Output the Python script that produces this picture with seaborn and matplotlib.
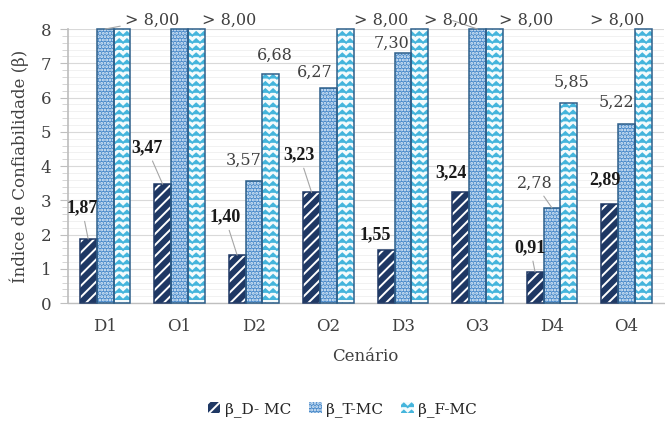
import warnings
import numpy as np
import pandas as pd
import matplotlib
matplotlib.use('Agg')
import matplotlib.pyplot as plt
import seaborn as sns
from matplotlib import hatch as mhatch
from matplotlib.path import Path
from matplotlib.patches import Rectangle
from matplotlib.ticker import MultipleLocator

warnings.filterwarnings('ignore')

# Dados (8,00 = "> 8,00")
cenarios = ['D1', 'O1', 'D2', 'O2', 'D3', 'O3', 'D4', 'O4']
beta_d = [1.87, 3.47, 1.40, 3.23, 1.55, 3.24, 0.91, 2.89]
beta_t = [8.00, 8.00, 3.57, 6.27, 7.30, 8.00, 2.78, 5.22]
beta_f = [8.00, 8.00, 6.68, 8.00, 8.00, 8.00, 5.85, 8.00]
series = ['β_D- MC', 'β_T-MC', 'β_F-MC']

# rotulos: (serie, cenario, x do texto, y do texto, linha guia)
rotulos = [
    (0, 0, -0.31, 2.77, True),
    (0, 1, 0.56, 4.53, True),
    (0, 2, 1.61, 2.51, True),
    (0, 3, 2.61, 4.32, True),
    (0, 4, 3.63, 1.99, False),
    (0, 5, 4.64, 3.82, False),
    (0, 6, 5.71, 1.61, True),
    (0, 7, 6.71, 3.59, False),
    (1, 0, 0.63, 8.26, True),
    (1, 2, 1.86, 4.18, False),
    (1, 3, 2.82, 6.74, False),
    (1, 4, 3.84, 7.59, False),
    (1, 5, 4.65, 8.26, True),
    (1, 6, 5.77, 3.50, True),
    (1, 7, 6.87, 5.87, False),
    (2, 1, 1.66, 8.26, False),
    (2, 2, 2.28, 7.24, False),
    (2, 4, 3.70, 8.26, False),
    (2, 5, 5.65, 8.26, False),
    (2, 6, 6.27, 6.45, False),
    (2, 7, 6.88, 8.26, False),
]


# padrao zig-zag (nao existe no matplotlib)
class ZigZag(mhatch.HatchPatternBase):
    periods = 13

    def __init__(self, hatch, density):
        self.num_lines = int(hatch.count('z') * density * 1.2)
        self.num_vertices = self.num_lines * (2 * self.periods + 1)

    def set_vertices_and_codes(self, vertices, codes):
        n = 2 * self.periods + 1
        xs = np.linspace(0, 1, n)
        amp = 0.5 / max(self.num_lines, 1)
        off = np.where(np.arange(n) % 2 == 0, 0.0, amp)
        steps = np.linspace(0, 1, self.num_lines, endpoint=False)
        for i, y0 in enumerate(steps):
            vertices[i * n:(i + 1) * n, 0] = xs
            vertices[i * n:(i + 1) * n, 1] = y0 + off
            codes[i * n] = Path.MOVETO
            codes[i * n + 1:(i + 1) * n] = Path.LINETO


mhatch._hatch_types.append(ZigZag)

sns.set_theme(style='white')
plt.rcParams['font.family'] = ['DejaVu Serif']
plt.rcParams['hatch.linewidth'] = 1.4

df = pd.DataFrame({
    'Cenário': cenarios * 3,
    'beta': beta_d + beta_t + beta_f,
    'serie': [s for s in series for _ in cenarios],
})

cores = ['#1f3864', '#4a8aca', '#f4fbfd']
cor_hatch = ['white', '#e8f2fb', '#45b5dc']
bordas = ['#1f3864', '#2e5f8a', '#2e5f8a']
hatches = ['///', '.....', 'zz']

fig = plt.figure(figsize=(6.65, 4.21), dpi=100)
ax = fig.add_axes([0.102, 0.280, 0.896, 0.651])

sns.barplot(data=df, x='Cenário', y='beta', hue='serie', palette=cores,
            saturation=1, width=0.68, gap=0, legend=False, ax=ax, zorder=2)

for k, cont in enumerate(ax.containers):
    for p in cont.patches:
        p.set_hatch(hatches[k])
        p.set_edgecolor(cor_hatch[k])
        p.set_linewidth(0)
        ax.add_patch(Rectangle(p.get_xy(), p.get_width(), p.get_height(),
                               fill=False, edgecolor=bordas[k], lw=1.1,
                               zorder=3, clip_on=False))

ax.set_xlim(-0.5, 7.5)
ax.set_ylim(0, 8)
ax.yaxis.set_major_locator(MultipleLocator(1))
ax.yaxis.set_minor_locator(MultipleLocator(0.2))
ax.grid(which='major', axis='y', color='#d9d9d9', lw=0.8)
ax.grid(which='minor', axis='y', color='#efefef', lw=0.6)
ax.set_axisbelow(True)

ax.tick_params(axis='y', which='major', left=True, length=6, width=0.8,
               color='#bfbfbf', labelsize=12, labelcolor='#404040', pad=6)
ax.tick_params(axis='y', which='minor', left=True, length=4, width=0.6,
               color='#cfcfcf')
ax.tick_params(axis='x', length=0, labelsize=12, labelcolor='#404040', pad=11)
for s in ['top', 'right']:
    ax.spines[s].set_visible(False)
ax.spines['left'].set_color('#bfbfbf')
ax.spines['bottom'].set_color('#bfbfbf')
ax.spines['bottom'].set_linewidth(1.0)

ax.set_xlabel('Cenário', fontsize=12, color='#404040', labelpad=9)
ax.set_ylabel('Índice de Confiabilidade (β)', fontsize=12, color='#404040',
              labelpad=8)

# rotulos de dados
for serie, i, tx, ty, guia in rotulos:
    p = ax.containers[serie].patches[i]
    v = p.get_height()
    txt = '> 8,00' if v >= 8 else f'{v:.2f}'.replace('.', ',')
    if serie == 0:
        kw = dict(fontsize=13, fontweight='bold', color='#1a1a1a',
                  family='Liberation Serif')
    else:
        kw = dict(fontsize=11.5, color='#404040')
    arrow = dict(arrowstyle='-', color='#a6a6a6', lw=0.8,
                 shrinkA=1, shrinkB=0) if guia else None
    ax.annotate(txt, xy=(p.get_x() + p.get_width() / 2, v), xytext=(tx, ty),
                ha='center', va='center', arrowprops=arrow,
                annotation_clip=False, zorder=5, **kw)

handles = list(ax.containers[k].patches[0] for k in range(3))
fig.legend(handles, series, loc='center', bbox_to_anchor=(0.515, 0.028),
           ncol=3, frameon=False, fontsize=11, handlelength=0.8,
           handleheight=0.8, handletextpad=0.3, columnspacing=1.2)

fig.savefig('out.png', dpi=100)
